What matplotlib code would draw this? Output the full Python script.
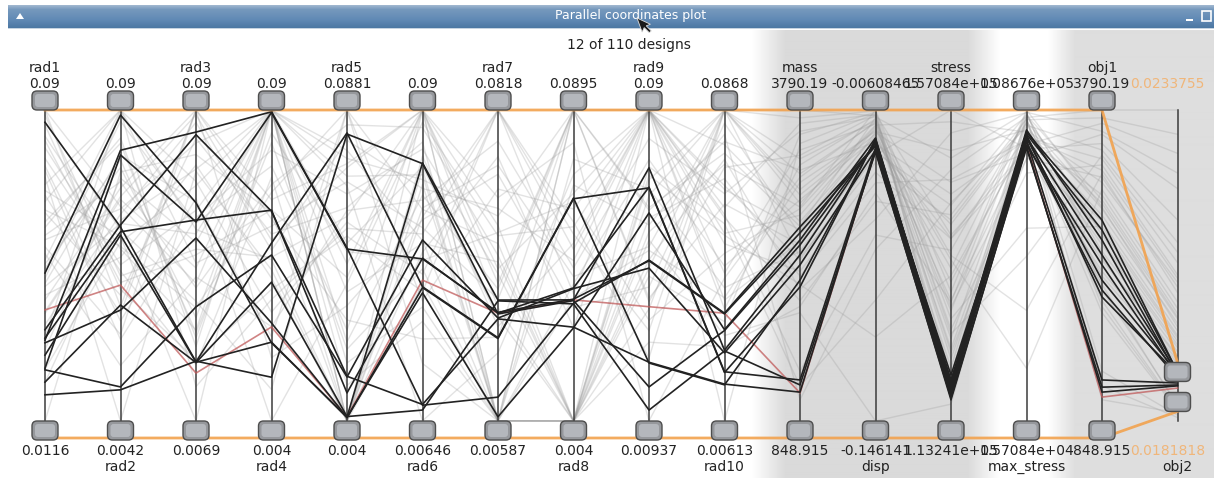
import numpy as np
import matplotlib
matplotlib.use("Agg")
import matplotlib.pyplot as plt
from matplotlib.patches import FancyBboxPatch, Polygon, Rectangle

# ---------------------------------------------------------------- axes
names = ["rad1", "rad2", "rad3", "rad4", "rad5", "rad6", "rad7", "rad8",
         "rad9", "rad10", "mass", "disp", "stress", "max_stress", "obj1", "obj2"]
top_text = ["0.09", "0.09", "0.09", "0.09", "0.0881", "0.09", "0.0818", "0.0895",
            "0.09", "0.0868", "3790.19", "-0.00608465", "1.57084e+05",
            "1.08676e+05", "3790.19", "0.0233755"]
bottom_text = ["0.0116", "0.0042", "0.0069", "0.004", "0.004", "0.00646", "0.00587",
               "0.004", "0.00937", "0.00613", "848.915", "-0.146141", "1.13241e+05",
               "1.57084e+04", "848.915", "0.0181818"]
axis_hi = [0.09, 0.09, 0.09, 0.09, 0.0881, 0.09, 0.0818, 0.0895, 0.09, 0.0868,
           3790.19, -0.00608465, 157084, 108676, 3790.19, 0.0687]
axis_lo = [0.0116, 0.0042, 0.0069, 0.004, 0.004, 0.00646, 0.00587, 0.004, 0.00937,
           0.00613, 848.915, -0.146141, 113241, 15708.4, 848.915, 0.01489]
# brushed interval on obj2
obj2_brush = [0.0181818, 0.0233755]

# ---------------------------------------------------------------- designs
# first 12 entries: designs inside the obj2 brush (the last of them is the
# current design); the rest: other designs
N_SEL = 12
CURRENT = 11

rad1 = [0.0869, 0.0489, 0.0320, 0.0325, 0.0313, 0.0245, 0.0214, 0.0182, 0.0282, 0.0249, 0.0346, 0.0396,
        0.0900, 0.0712, 0.0555, 0.0834, 0.0463, 0.0641, 0.0387, 0.0778, 0.0522, 0.0296,
        0.0685, 0.0871, 0.0604, 0.0433, 0.0748, 0.0512, 0.0359, 0.0823, 0.0669, 0.0247,
        0.0584, 0.0900, 0.0455, 0.0731, 0.0618, 0.0392, 0.0805, 0.0538, 0.0116, 0.0697,
        0.0476, 0.0862, 0.0573, 0.0329, 0.0759, 0.0648, 0.0421, 0.0887, 0.0501, 0.0213]
rad2 = [0.0577, 0.0886, 0.0789, 0.0564, 0.0348, 0.0136, 0.0362, 0.0128, 0.0555, 0.0776, 0.0583, 0.0417,
        0.0634, 0.0900, 0.0281, 0.0517, 0.0776, 0.0389, 0.0653, 0.0455, 0.0900, 0.0712,
        0.0338, 0.0569, 0.0823, 0.0494, 0.0267, 0.0741, 0.0612, 0.0424, 0.0900, 0.0536,
        0.0702, 0.0358, 0.0587, 0.0042, 0.0808, 0.0661, 0.0473, 0.0195, 0.0729, 0.0551,
        0.0869, 0.0405, 0.0627, 0.0900, 0.0318, 0.0524, 0.0685, 0.0442, 0.0763, 0.0596]
rad3 = [0.0227, 0.0652, 0.0841, 0.0606, 0.0558, 0.0374, 0.0225, 0.0229, 0.0226, 0.0601, 0.0834, 0.0197,
        0.0437, 0.0581, 0.0900, 0.0312, 0.0655, 0.0824, 0.0478, 0.0219, 0.0709, 0.0546,
        0.0900, 0.0389, 0.0268, 0.0753, 0.0612, 0.0345, 0.0867, 0.0513, 0.0161, 0.0698,
        0.0425, 0.0900, 0.0569, 0.0736, 0.0291, 0.0887, 0.0632, 0.0454, 0.0781, 0.0069,
        0.0598, 0.0233, 0.0812, 0.0491, 0.0664, 0.0372, 0.0900, 0.0528, 0.0305, 0.0742]
rad4 = [0.0532, 0.0256, 0.0895, 0.0623, 0.0311, 0.0499, 0.0424, 0.0161, 0.0258, 0.0893, 0.0620, 0.0300,
        0.0900, 0.0486, 0.0652, 0.0900, 0.0273, 0.0557, 0.0900, 0.0714, 0.0341, 0.0900,
        0.0598, 0.0127, 0.0900, 0.0435, 0.0789, 0.0900, 0.0512, 0.0624, 0.0376, 0.0900,
        0.0694, 0.0215, 0.0900, 0.0458, 0.0837, 0.0540, 0.0900, 0.0301, 0.0616, 0.0900,
        0.0745, 0.0404, 0.0900, 0.0579, 0.0040, 0.0672, 0.0900, 0.0493, 0.0810, 0.0900]
rad5 = [0.0819, 0.0051, 0.0508, 0.0116, 0.0050, 0.0159, 0.0052, 0.0816, 0.0049, 0.0505, 0.0161, 0.0051,
        0.0521, 0.0040, 0.0736, 0.0389, 0.0881, 0.0617, 0.0254, 0.0040, 0.0578, 0.0702,
        0.0313, 0.0881, 0.0465, 0.0040, 0.0654, 0.0197, 0.0799, 0.0428, 0.0561, 0.0040,
        0.0841, 0.0352, 0.0676, 0.0040, 0.0498, 0.0725, 0.0136, 0.0609, 0.0040, 0.0772,
        0.0286, 0.0540, 0.0040, 0.0687, 0.0411, 0.0881, 0.0040, 0.0593, 0.0234, 0.0750]
rad6 = [0.0425, 0.0758, 0.0107, 0.0502, 0.0409, 0.0551, 0.0094, 0.0756, 0.0423, 0.0500, 0.0109, 0.0443,
        0.0748, 0.0613, 0.0900, 0.0542, 0.0387, 0.0814, 0.0671, 0.0900, 0.0459, 0.0726,
        0.0285, 0.0633, 0.0900, 0.0518, 0.0795, 0.0371, 0.0689, 0.0900, 0.0567, 0.0432,
        0.0853, 0.0605, 0.0065, 0.0741, 0.0496, 0.0900, 0.0332, 0.0658, 0.0776, 0.0549,
        0.0900, 0.0412, 0.0700, 0.0584, 0.0867, 0.0219, 0.0637, 0.0900, 0.0473, 0.0713]
rad7 = [0.0262, 0.0354, 0.0117, 0.0322, 0.0069, 0.0310, 0.0352, 0.0320, 0.0260, 0.0324, 0.0308, 0.0322,
        0.0312, 0.0818, 0.0059, 0.0447, 0.0625, 0.0059, 0.0381, 0.0536, 0.0818, 0.0059,
        0.0263, 0.0492, 0.0059, 0.0704, 0.0418, 0.0059, 0.0578, 0.0336, 0.0818, 0.0059,
        0.0463, 0.0661, 0.0225, 0.0059, 0.0519, 0.0395, 0.0059, 0.0742, 0.0289, 0.0059,
        0.0604, 0.0818, 0.0059, 0.0356, 0.0511, 0.0059, 0.0683, 0.0430, 0.0059, 0.0559]
rad8 = [0.0653, 0.0373, 0.0364, 0.0406, 0.0296, 0.0404, 0.0362, 0.0371, 0.0651, 0.0375, 0.0298, 0.0373,
        0.0040, 0.0512, 0.0895, 0.0040, 0.0623, 0.0378, 0.0895, 0.0040, 0.0554, 0.0417,
        0.0895, 0.0040, 0.0689, 0.0296, 0.0040, 0.0760, 0.0481, 0.0040, 0.0587, 0.0895,
        0.0040, 0.0352, 0.0718, 0.0040, 0.0643, 0.0895, 0.0040, 0.0461, 0.0529, 0.0040,
        0.0805, 0.0390, 0.0040, 0.0895, 0.0574, 0.0040, 0.0437, 0.0666, 0.0040, 0.0895]
rad9 = [0.0244, 0.0750, 0.0511, 0.0700, 0.0633, 0.0490, 0.0122, 0.0182, 0.0698, 0.0509, 0.0246, 0.0390,
        0.0584, 0.0900, 0.0412, 0.0719, 0.0900, 0.0536, 0.0647, 0.0900, 0.0328, 0.0771,
        0.0900, 0.0469, 0.0602, 0.0900, 0.0384, 0.0695, 0.0900, 0.0512, 0.0257, 0.0900,
        0.0753, 0.0441, 0.0900, 0.0620, 0.0355, 0.0900, 0.0563, 0.0826, 0.0900, 0.0490,
        0.0094, 0.0900, 0.0678, 0.0403, 0.0900, 0.0731, 0.0546, 0.0900, 0.0298, 0.0640]
rad10 = [0.0155, 0.0245, 0.0341, 0.0189, 0.0298, 0.0238, 0.0243, 0.0296, 0.0187, 0.0339, 0.0157, 0.0341,
         0.0727, 0.0445, 0.0624, 0.0868, 0.0521, 0.0381, 0.0756, 0.0589, 0.0868, 0.0463,
         0.0672, 0.0319, 0.0805, 0.0548, 0.0868, 0.0407, 0.0615, 0.0740, 0.0868, 0.0352,
         0.0573, 0.0834, 0.0061, 0.0690, 0.0496, 0.0868, 0.0283, 0.0651, 0.0778, 0.0868,
         0.0432, 0.0597, 0.0868, 0.0719, 0.0375, 0.0543, 0.0868, 0.0662, 0.0254, 0.0786]
mass = [2181, 2420, 2684, 1237, 2561, 2325, 1190, 2514, 2117, 2628, 1122, 1114,
        2873, 3412, 2518, 3790.19, 2264, 3105, 2689, 1987, 3328, 2941,
        2372, 3560, 1050, 2795, 3187, 2453, 3664, 2092, 2987, 3271,
        1180, 2611, 3473, 2219, 2856, 3038, 1873, 3589, 2734, 2395,
        3154, 1320, 2908, 3362, 2546, 2140, 3716, 2655, 1932, 3221]
disp = [-0.01953, -0.02051, -0.02191, -0.02317, -0.01869, -0.02415, -0.02499, -0.02093,
        -0.01911, -0.02233, -0.02420, -0.02410,
        -0.00608465, -0.0124, -0.0213, -0.0087, -0.0341, -0.0158, -0.0096, -0.0472, -0.0109, -0.0187,
        -0.0265, -0.0071, -0.0689, -0.0142, -0.0118, -0.0236, -0.0081, -0.0553, -0.0169, -0.0102,
        -0.0917, -0.0197, -0.0077, -0.0389, -0.0134, -0.0151, -0.146141, -0.0092, -0.0176, -0.0298,
        -0.0113, -0.0624, -0.0129, -0.0084, -0.0251, -0.1083, -0.0065, -0.0162, -0.0435, -0.0205]
stress = [118327, 119028, 117318, 116924, 117888, 119730, 116485, 118721, 117625, 118458, 116222, 117600,
          131450, 124870, 145230, 119560, 138920, 151370, 127640, 142310, 121980, 134760,
          157084, 129310, 148650, 123420, 136580, 140970, 118230, 153860, 132890, 126150,
          144020, 120740, 139450, 147280, 128770, 135940, 115620, 150310, 130260, 141580,
          122870, 137310, 155420, 125530, 143660, 133720, 117490, 146890, 129980, 139010]
max_stress = [101238, 100309, 102075, 99751, 98170, 99100, 97334, 102726, 100588, 101517, 97891, 98821,
              108676, 104120, 99870, 106430, 95560, 102710, 73340, 105920, 100480, 107150,
              97230, 93970, 106610, 101020, 48780, 104470, 98350, 107890, 100160, 89830,
              103580, 106970, 96940, 99720, 105150, 31460, 101830, 108020, 97410, 104890,
              94250, 106280, 102050, 64920, 107340, 99160, 105760, 95780, 108120, 100640]
obj1 = [2022, 2181, 2749, 1237, 2325, 2087, 1169, 2561, 2420, 2655, 1122, 1075,
        2873, 3412, 2518, 3790.19, 2264, 3105, 2689, 1987, 3328, 2941,
        2372, 3560, 1050, 2795, 3187, 2453, 3664, 2092, 2987, 3271,
        1180, 2611, 3473, 2219, 2856, 3038, 1873, 3589, 2734, 2395,
        3154, 1320, 2908, 3362, 2546, 2140, 3716, 2655, 1932, 3221]
obj2 = [0.02302, 0.02318, 0.02335, 0.02146, 0.02269, 0.02232, 0.02113, 0.02285, 0.02318, 0.02335,
        0.02097, 0.02059,
        0.0312, 0.0458, 0.0276, 0.0687, 0.0254, 0.0389, 0.0297, 0.0171, 0.0423, 0.0335,
        0.0262, 0.0551, 0.0163, 0.0318, 0.0371, 0.0269, 0.0612, 0.0178, 0.0344, 0.0402,
        0.0155, 0.0287, 0.0497, 0.0249, 0.0326, 0.0355, 0.0167, 0.0578, 0.0305, 0.0258,
        0.0381, 0.0159, 0.0329, 0.0441, 0.0281, 0.0174, 0.0645, 0.0293, 0.0169, 0.0396]

columns = [rad1, rad2, rad3, rad4, rad5, rad6, rad7, rad8, rad9, rad10,
           mass, disp, stress, max_stress, obj1, obj2]

# ---------------------------------------------------------------- layout
W, H = 1214, 480
X0, DX = 45.0, 75.5
Y_TOP, Y_BOT = 110.0, 421.0
axis_x = [X0 + DX * k for k in range(len(names))]
FS = 10
TXT = "#222222"


def to_y(v, k):
    frac = (v - axis_lo[k]) / (axis_hi[k] - axis_lo[k])
    return Y_BOT - frac * (Y_BOT - Y_TOP)


fig = plt.figure(figsize=(W / 100, H / 100), dpi=100)
fig.patch.set_facecolor("white")
ax = fig.add_axes([0, 0, 1, 1])
ax.set_xlim(0, W)
ax.set_ylim(H, 0)
ax.axis("off")

# shaded background columns
px = np.arange(W)
shade = np.interp(px, [0, 752, 785, 968, 1000, 1048, 1075, W],
                  [1.0, 1.0, 0.855, 0.855, 1.0, 1.0, 0.87, 0.87])
ax.imshow(np.tile(shade, (2, 1)), cmap="gray", vmin=0, vmax=1,
          extent=(0, W, 478, 30), aspect="auto", zorder=0, interpolation="bilinear")

# window title bar
rows = np.arange(24)
r = np.interp(rows, [0, 4, 14, 22, 23], [0.62, 0.46, 0.38, 0.30, 0.78])
g = np.interp(rows, [0, 4, 14, 22, 23], [0.71, 0.60, 0.54, 0.47, 0.83])
b = np.interp(rows, [0, 4, 14, 22, 23], [0.81, 0.74, 0.71, 0.64, 0.88])
bar = np.stack([r, g, b], axis=1)[:, None, :].repeat(2, axis=1)
ax.imshow(bar, extent=(8, W, 29, 5), aspect="auto", zorder=1, interpolation="bilinear")
ax.text(631, 16, "Parallel coordinates plot", ha="center", va="center",
        fontsize=9, color="white", zorder=9)
ax.add_patch(Polygon([(16, 19), (24, 19), (20, 13)], closed=True,
                     facecolor="white", edgecolor="none", zorder=9))
ax.add_patch(Rectangle((1186, 19), 7, 2, facecolor="white", edgecolor="none", zorder=9))
ax.add_patch(Rectangle((1202, 11), 9, 10, facecolor="none", edgecolor="white", lw=1.2, zorder=9))

ax.text(629, 45, "12 of 110 designs", ha="center", va="center", fontsize=FS, color=TXT, zorder=9)

# polylines of all designs
n_designs = len(rad1)
for i in range(N_SEL, n_designs):
    ys = [to_y(columns[k][i], k) for k in range(len(names))]
    ax.plot(axis_x, ys, color="#9a9a9a", alpha=0.28, lw=1.0, zorder=2, solid_capstyle="round")

# vertical axes
for k, x in enumerate(axis_x):
    ax.plot([x, x], [Y_TOP, Y_BOT], color="#3c3c3c", lw=1.1, zorder=3)

for i in range(N_SEL):
    ys = [to_y(columns[k][i], k) for k in range(len(names))]
    if i == CURRENT:
        ax.plot(axis_x, ys, color="#c05a5a", alpha=0.75, lw=1.2, zorder=4)
    else:
        ax.plot(axis_x, ys, color="#222222", lw=1.2, zorder=5)

# brush bounds (orange)
HH = 19
b_top = to_y(obj2_brush[1], 15)
b_bot = to_y(obj2_brush[0], 15)
top_line = [Y_TOP] * 15 + [b_top - HH / 2]
bot_line = [Y_BOT + HH - 2] * 15 + [b_bot + HH / 2]
ax.plot(axis_x, top_line, color="#f2a24e", lw=2.0, alpha=0.9, zorder=6)
ax.plot(axis_x, bot_line, color="#f2a24e", lw=2.0, alpha=0.9, zorder=6)


def handle(xc, yc):
    ax.add_patch(FancyBboxPatch((xc - 13, yc - HH / 2), 26, HH,
                                boxstyle="round,pad=0,rounding_size=5",
                                facecolor="#96989c", edgecolor="#4e4e4e", lw=1.0, zorder=7))
    ax.add_patch(FancyBboxPatch((xc - 10, yc - HH / 2 + 3), 20, HH - 6,
                                boxstyle="round,pad=0,rounding_size=3",
                                facecolor="#b4b7bc", edgecolor="none", zorder=7))


for k, x in enumerate(axis_x[:-1]):
    handle(x, Y_TOP - HH / 2)
    handle(x, Y_BOT + HH / 2)
handle(axis_x[-1], b_top)
handle(axis_x[-1], b_bot)

# labels
last = len(names) - 1
for k, x in enumerate(axis_x):
    if k == last:
        # brush values of obj2, left-aligned right after obj1's labels
        ax.text(x - 47, 84, top_text[k], ha="left", va="center", fontsize=FS,
                color="#f0b67a", zorder=9)
        ax.text(x - 47, 451, bottom_text[k], ha="left", va="center", fontsize=FS,
                color="#f0b67a", zorder=9)
    else:
        ax.text(x, 84, top_text[k], ha="center", va="center", fontsize=FS, color=TXT, zorder=9)
        ax.text(x, 451, bottom_text[k], ha="center", va="center", fontsize=FS, color=TXT, zorder=9)
    if k % 2 == 0:
        ax.text(x, 68, names[k], ha="center", va="center", fontsize=FS, color=TXT, zorder=9)
    else:
        ax.text(x, 467, names[k], ha="center", va="center", fontsize=FS, color=TXT, zorder=9)

# mouse pointer over the title
cur = [(0, 0), (0, 15), (3.5, 11.5), (6.5, 18), (9, 17), (6, 10.5), (10.5, 10.5)]
ang = np.deg2rad(-20)
ca, sa = np.cos(ang), np.sin(ang)
ax.add_patch(Polygon([(637 + px_ * ca - py_ * sa, 18 + px_ * sa + py_ * ca) for px_, py_ in cur],
                     closed=True, facecolor="#1a1a1a", edgecolor="#dddddd", lw=0.6, zorder=10))

fig.savefig("out.png", dpi=100, facecolor="white")
